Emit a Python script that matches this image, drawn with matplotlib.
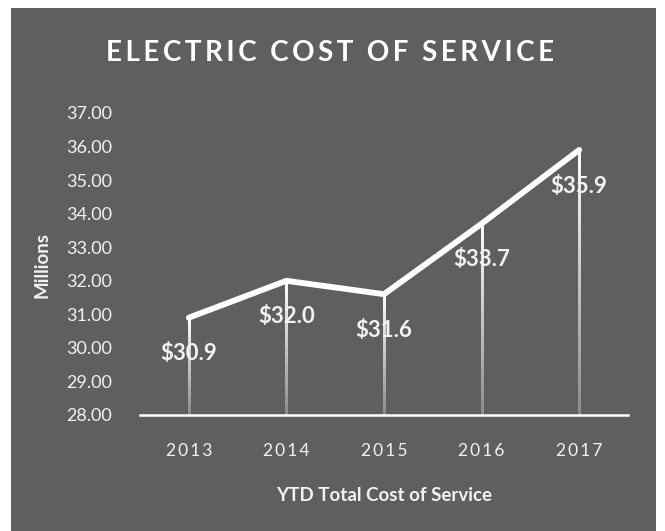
import matplotlib.pyplot as plt
import numpy as np
from matplotlib.collections import LineCollection
from matplotlib.patches import Rectangle

years = ['2013', '2014', '2015', '2016', '2017']
cost = [30.9, 32.0, 31.6, 33.7, 35.9]
y_ticks = np.arange(28, 38, 1)

bg = '#5f5f5f'
txt = '#f2f2f2'
plt.rcParams['font.family'] = ['Lato', 'DejaVu Sans']


def spaced(s, gap='\u2009', word_gap='  '):
    # put a thin space between letters of each word
    return word_gap.join(gap.join(w) for w in s.split(' '))


fig = plt.figure(figsize=(6.65, 5.31), dpi=100)
fig.patch.set_facecolor('white')
# gray chart panel
fig.patches.append(Rectangle((11 / 665, 0), 645 / 665, 523 / 531,
                             transform=fig.transFigure, facecolor=bg,
                             edgecolor='none', zorder=-5))

ax = fig.add_axes([140 / 665, 116 / 531, 488 / 665, 302 / 531])
ax.set_zorder(2)
ax.set_facecolor('none')
x = np.arange(len(years))

# drop lines fading from white to gray
segs, cols = [], []
n = 60
top_c = np.array([1, 1, 1])
bot_c = np.array([0.55, 0.55, 0.55])
for xi, yi in zip(x, cost):
    ys = np.linspace(yi, 28, n + 1)
    for k in range(n):
        segs.append([(xi, ys[k]), (xi, ys[k + 1])])
        t = k / (n - 1)
        cols.append(tuple(top_c * (1 - t) + bot_c * t))
drops = LineCollection(segs, colors=cols, linewidths=2.0, zorder=2,
                       capstyle='projecting', antialiaseds=False)
ax.add_collection(drops)

ax.plot(x, cost, color='white', linewidth=4.2, solid_capstyle='round',
        solid_joinstyle='round', zorder=3)

for xi, yi in zip(x, cost):
    ax.annotate(f'${yi:.1f}', (xi, yi), xytext=(0, -26), textcoords='offset points',
                ha='center', va='center', color=txt, fontsize=16, fontweight='bold',
                zorder=4)

ax.set_xlim(-0.5, 4.5)
ax.set_ylim(28, 37)
ax.set_yticks(y_ticks)
ax.set_yticklabels([f'{v:.2f}' for v in y_ticks])
ax.set_xticks(x)
ax.set_xticklabels([spaced(yr, word_gap=' ') for yr in years])
ax.tick_params(axis='y', length=0, pad=20, labelsize=13, labelcolor=txt)
ax.tick_params(axis='x', length=0, pad=20, labelsize=12.5, labelcolor=txt)

for s in ['top', 'right', 'left']:
    ax.spines[s].set_visible(False)
ax.spines['bottom'].set_color('white')
ax.spines['bottom'].set_linewidth(1.8)

ax.set_xlabel('YTD Total Cost of Service', color=txt, fontsize=13.5,
              fontweight='bold', labelpad=20)
fig.text(42 / 665, 1 - 265 / 531, 'Millions', rotation=90, color=txt,
         fontsize=13.5, fontweight='bold', ha='center', va='center')

fig.text(330 / 665, 1 - 53 / 531, spaced('ELECTRIC COST OF SERVICE'),
         color='white', fontsize=20, fontweight='bold', ha='center', va='center')

fig.savefig('out.png', dpi=100, facecolor=fig.get_facecolor())
